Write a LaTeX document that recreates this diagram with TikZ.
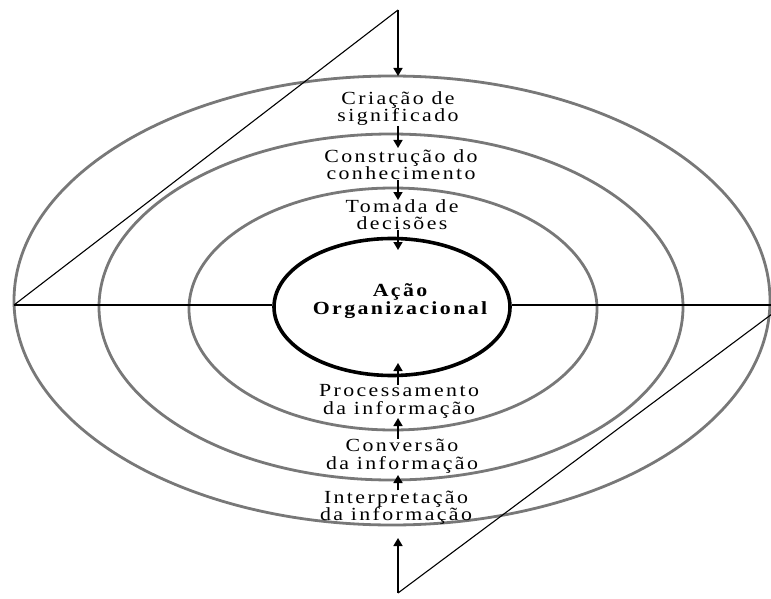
\documentclass[tikz,border=0pt]{standalone}
\usepackage{fontspec}
\setmainfont{Liberation Serif}[LetterSpace=13,FakeStretch=1.18]
\usetikzlibrary{arrows.meta,shapes.geometric}
\definecolor{ringgray}{RGB}{120,120,120}
\begin{document}
\begin{tikzpicture}[x=1pt,y=-1pt,
  ring/.style={draw=ringgray,line width=2.8pt},
  core/.style={draw=black,line width=3.6pt,ellipse,inner sep=0pt,minimum width=236pt,minimum height=137pt},
  thin/.style={draw=black,line width=1.1pt},
  flow/.style={draw=black,line width=1.6pt,-{Triangle[width=9pt,length=8pt]}},
  lbl/.style={align=center,inner sep=0pt,font=\fontsize{18.5}{17.5}\selectfont},
]
\useasboundingbox (0,0) rectangle (771,599);
\begin{scope}
\clip (0,0) rectangle (771,599);
% rings
\draw[ring] (392,300.5) ellipse [x radius=378, y radius=224.5];
\draw[ring] (391,307) ellipse [x radius=292, y radius=173];
\draw[ring] (393,309) ellipse [x radius=204, y radius=121];
\node[core] (acao) at (392,307) {};
% coordinates
\coordinate (L) at (14,305);
\coordinate (R) at (784,305);
\coordinate (Rb) at (771,305);
\coordinate (T) at (398,10);
\coordinate (B) at (398,593);
% thin lines
\draw[thin] (L) -- (L -| acao.west);
\draw[thin] (Rb -| acao.east) -- (Rb);
\draw[thin] (L) -- (T);
\draw[thin] (B) -- (R);
% labels
\node[lbl] (crit) at (398,108.5) {Criação de\\significado};
\node[lbl] (constr) at (401,164.5) {Construção do\\conhecimento};
\node[lbl] (tomada) at (402,214.5) {Tomada de\\decisões};
\node[lbl,font=\fontsize{18.5}{17.5}\selectfont\bfseries] (acaotxt) at (400,301) {Ação\\Organizacional};
\node[lbl] (proc) at (399,401.5) {Processamento\\da informação};
\node[lbl] (conv) at (402,456) {Conversão\\da informação};
\node[lbl] (interp) at (396,507.5) {Interpretação\\da informação};
% arrow end coordinates
\coordinate (t0) at (398,76);
\coordinate (a1e) at (398,148);
\coordinate (a2e) at (398,200);
\coordinate (a3e) at (398,250);
\coordinate (b1e) at (398,363);
\coordinate (b2e) at (398,418);
\coordinate (b3e) at (398,475);
\coordinate (b0) at (398,538);
% arrows
\draw[flow] (T) -- (t0);
\draw[flow] (crit.south -| a1e) -- (a1e);
\draw[flow] (constr.south -| a2e) -- (a2e);
\draw[flow] (tomada.south -| a3e) -- (a3e);
\draw[flow] (proc.north -| b1e) -- (b1e);
\draw[flow] (conv.north -| b2e) -- (b2e);
\draw[flow] (interp.north -| b3e) -- (b3e);
\draw[flow] (B) -- (b0);
\end{scope}
\end{tikzpicture}
\end{document}
